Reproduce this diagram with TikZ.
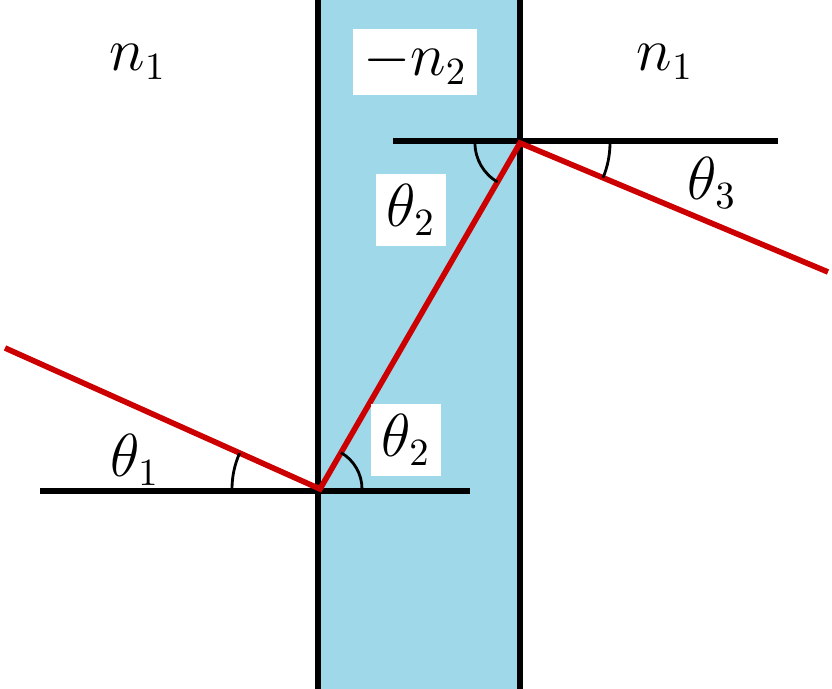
\documentclass[tikz,border=0pt]{standalone}
\usepackage{amsmath,amssymb}
\definecolor{slabblue}{RGB}{158,216,233}
\tikzset{
  wall/.style  = {line width=1.9pt, black},
  normal/.style = {line width=1.6pt, black},
  ray/.style   = {line width=1.6pt, red!80!black},
  anglearc/.style = {line width=0.8pt, black},
  lbl/.style   = {font=\fontsize{16}{19}\selectfont, inner sep=3pt},
  boxlbl/.style = {lbl, fill=white}
}
\begin{document}
\begin{tikzpicture}[x=0.01cm,y=-0.01cm]
	\useasboundingbox (0,0) rectangle (832,689);
	
	% Slab
	\fill[slabblue] (318,0) rectangle (520,689);
	\draw[wall] (318,0) -- (318,689);
	\draw[wall] (520,0) -- (520,689);
	
	% Normals
	\draw[normal] (40,491) -- (470,491);
	\draw[normal] (393,141) -- (778,141);
	
	% Ray
	\coordinate (src) at (5,348);
	\coordinate (hitA) at (320,489);
	\coordinate (hitB) at (520,143);
	\coordinate (out) at (828,272);
	\draw[ray] (src) -- (hitA) -- (hitB) -- (out);
	
	% Angles (y axis points down, so angles are mirrored)
	\draw[anglearc] (hitA) ++(0:42) arc (0:-60:42);
	\draw[anglearc] (hitA) ++(-156:88) arc (-156:-180:88);
	\draw[anglearc] (hitB) ++(-180:45) arc (-180:-240:45);
	\draw[anglearc] (hitB) ++(0:90) arc (0:22.7:90);
	
	% Labels
	\node[lbl] (nLeft) at (138,62) {$n_1$};
	\node[boxlbl] (nSlab) at (415,62) {$-n_2$};
	\node[lbl] (nRight) at (665,62) {$n_1$};
	\node[lbl] (thOne) at (135,460) {$\theta_1$};
	\node[boxlbl] (thTwoLow) at (406,440) {$\theta_2$};
	\node[boxlbl] (thTwoUp) at (411,210) {$\theta_2$};
	\node[lbl] (thThree) at (712,183) {$\theta_3$};
\end{tikzpicture}
\end{document}
